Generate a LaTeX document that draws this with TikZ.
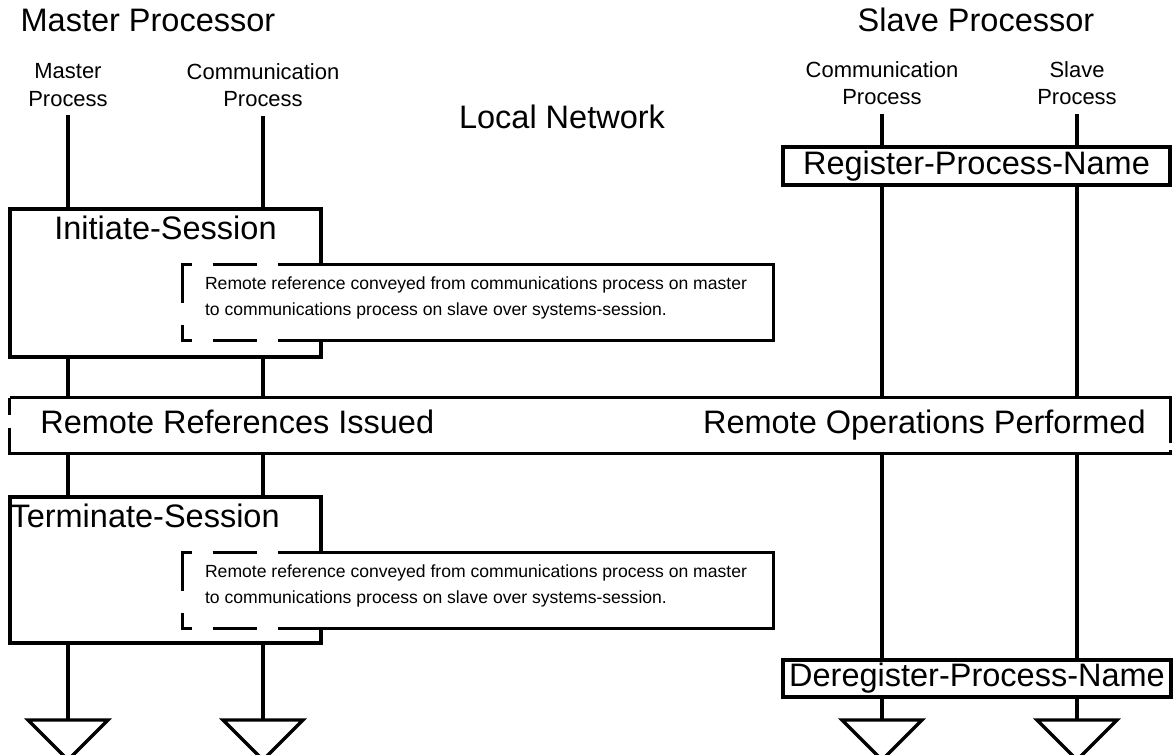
\documentclass[tikz,border=0pt]{standalone}
\usepackage{fontspec}
\setmainfont{Liberation Sans}
\usetikzlibrary{positioning}

\tikzset{
  wire/.style={line width=1.9pt},
  box/.style={draw, line width=1.9pt, rectangle, inner sep=0pt},
  big/.style={font=\fontsize{18.5}{22}\selectfont, inner sep=0pt},
  small/.style={font=\fontsize{12.5}{15.5}\selectfont, align=center, inner sep=0pt},
  note/.style={font=\fontsize{10}{14.8}\selectfont, align=left, inner sep=0pt},
}

\begin{document}
\begin{tikzpicture}[x=0.02cm,y=-0.02cm]
 \useasboundingbox (0,0) rectangle (1176,754);
 \clip (0,0) rectangle (1176,754);

 \node (mtitle) at (148,20) [big] {Master Processor};
 \node (stitle) at (976,20) [big] {Slave Processor};
 \node (lan) at (562,117) [big] {Local Network};

 \node (mproc) at (68,85) [small] {Master\\Process};
 \node (mcomm) at (263,85) [small] {Communication\\Process};
 \node (scomm) at (882,83) [small] {Communication\\Process};
 \node (sproc) at (1077,83) [small] {Slave\\Process};

 \node (reg) at (976.5,166) [box, big, minimum width=7.74cm, minimum height=0.76cm] {Register-Process-Name};
 \node (init) at (165.5,283) [box, minimum width=6.22cm, minimum height=2.96cm] {};
 \node (initlbl) [big, below=4.5pt of init.north] {Initiate-Session};
 \node (term) at (165.5,570) [box, minimum width=6.22cm, minimum height=2.92cm] {};
 \node (termlbl) [big, below right=4.5pt and 1pt of term.north west] {Terminate-Session};
 \node (dereg) at (977,678.5) [box, big, minimum width=7.76cm, minimum height=0.74cm] {Deregister-Process-Name};

 % remote reference boxes, half dashed on the left
 \foreach \n/\y in {note1/302.5, note2/590.5} {
  \node (\n) at (478,\y) [fill=white, minimum width=11.8cm, minimum height=1.5cm] {};
  \draw [wire] ([xshift=1.9cm]\n.north west) -- (\n.north east) -- (\n.south east) -- ([xshift=1.9cm]\n.south west);
  \draw [wire] ([xshift=0.6cm]\n.north west) -- ([xshift=1.48cm]\n.north west);
  \draw [wire] ([xshift=0.6cm]\n.south west) -- ([xshift=1.48cm]\n.south west);
  \draw [wire] ([xshift=0.18cm]\n.north west) -- (\n.north west) -- ([yshift=-0.76cm]\n.north west);
  \draw [wire] ([yshift=0.3cm]\n.south west) -- (\n.south west) -- ([xshift=0.18cm]\n.south west);
  \node (\n txt) [note, right=0.44cm of \n.west, yshift=2.5pt] {Remote reference conveyed from communications process on master\\to communications process on slave over systems-session.};
 }

 \node (band) at (590,425.5) [minimum width=23.2cm, minimum height=1.1cm] {};
 \draw [wire] (band.north west) -- (band.north east) -- ([yshift=0.2cm]band.south east);
 \draw [wire] ([yshift=0.06cm]band.south east) -- (band.south east) -- (band.south west) -- ([yshift=0.5cm]band.south west);
 \draw [wire] (band.north west) -- ([yshift=-0.34cm]band.north west);
 \node (issued) at (40,433) [big, anchor=base west] {Remote References Issued};
 \node (performed) at (1146,433) [big, anchor=base east] {Remote Operations Performed};

 \foreach \c in {mproc, mcomm, scomm, sproc} \coordinate (\c-end) at (\c |- 0,720);

 \foreach \c in {mproc, mcomm} {
  \draw [wire, shorten <=5pt] (\c) -- (init.north -| \c);
  \draw [wire] (init.south -| \c) -- (band.north -| \c);
  \draw [wire] (band.south -| \c) -- (term.north -| \c);
  \draw [wire] (term.south -| \c) -- (\c-end);
 }
 \foreach \c in {scomm, sproc} {
  \draw [wire, shorten <=5pt] (\c) -- (reg.north -| \c);
  \draw [wire] (reg.south -| \c) -- (band.north -| \c);
  \draw [wire] (band.south -| \c) -- (dereg.north -| \c);
  \draw [wire] (dereg.south -| \c) -- (\c-end);
 }

 \foreach \c in {mproc, mcomm, scomm, sproc}
  \draw [wire, line join=miter] ([xshift=-0.8cm]\c-end) -- ([xshift=0.8cm]\c-end) -- ([yshift=-0.8cm]\c-end) -- cycle;
\end{tikzpicture}
\end{document}
